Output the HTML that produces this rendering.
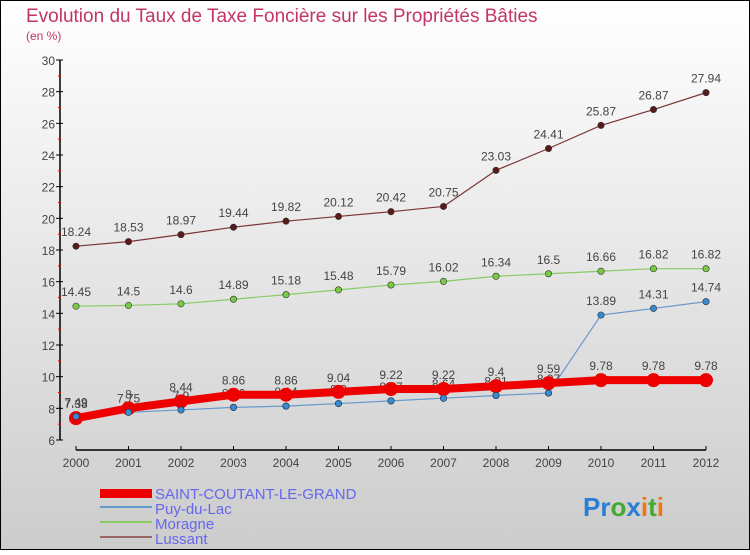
<!DOCTYPE html>
<html><head><meta charset="utf-8">
<style>
html,body{margin:0;padding:0;}
body{width:750px;height:550px;overflow:hidden;font-family:"Liberation Sans",sans-serif;}
svg text{font-family:"Liberation Sans",sans-serif;}
</style></head>
<body>
<svg id="chart" width="750" height="550" xmlns="http://www.w3.org/2000/svg">
<defs>
<linearGradient id="bg" x1="0" y1="0" x2="0" y2="1">
<stop offset="0" stop-color="#ffffff"/><stop offset="1" stop-color="#cccccc"/>
</linearGradient>
</defs>
<rect x="0.5" y="0.5" width="749" height="549" fill="url(#bg)" stroke="#000"/>
<text x="26" y="22" font-size="19" fill="#c3346a">Evolution du Taux de Taxe Foncière sur les Propriétés Bâties</text>
<text x="26" y="40" font-size="12" fill="#c3346a">(en %)</text>
<g id="axes"></g>
<g id="series"></g>
<g id="legend">
<rect x="100" y="489" width="52" height="9" fill="#ee0000"/>
<text x="155" y="499" font-size="15" fill="#6666ee">SAINT-COUTANT-LE-GRAND</text>
<rect x="100" y="506" width="52" height="2" fill="#6699cc"/>
<text x="155" y="514" font-size="15" fill="#6666ee">Puy-du-Lac</text>
<rect x="100" y="521" width="52" height="2" fill="#88cc66"/>
<text x="155" y="529" font-size="15" fill="#6666ee">Moragne</text>
<rect x="100" y="536" width="52" height="2" fill="#996666"/>
<text x="155" y="544" font-size="15" fill="#6666ee">Lussant</text>
</g>
<g font-size="26" font-weight="bold">
<text x="583" y="516"><tspan fill="#2a7fd4">Pr</tspan><tspan fill="#44aa33">o</tspan><tspan fill="#2a7fd4">x</tspan><tspan fill="#ee7711">i</tspan><tspan fill="#44aa33">t</tspan><tspan fill="#ee7711">i</tspan></text>
</g>
</svg>
<script>
const years = [2000,2001,2002,2003,2004,2005,2006,2007,2008,2009,2010,2011,2012];
const saintCoutant = [7.38,8,8.44,8.86,8.86,9.04,9.22,9.22,9.4,9.59,9.78,9.78,9.78];
const puyDuLac = [7.49,7.75,7.9,8.06,8.14,8.3,8.47,8.64,8.81,8.97,13.89,14.31,14.74];
const moragne = [14.45,14.5,14.6,14.89,15.18,15.48,15.79,16.02,16.34,16.5,16.66,16.82,16.82];
const lussant = [18.24,18.53,18.97,19.44,19.82,20.12,20.42,20.75,23.03,24.41,25.87,26.87,27.94];
const yTicks = [6,8,10,12,14,16,18,20,22,24,26,28,30];

const NS = "http://www.w3.org/2000/svg";
function xs(i){ return 76 + (706-76)*(i/(years.length-1)); }
function ys(v){ return 440 - (v-6)*(380/24); }
function mk(tag, attrs, parent){ const e=document.createElementNS(NS,tag); for(const k in attrs) e.setAttribute(k,attrs[k]); parent.appendChild(e); return e; }

const axes = document.getElementById('axes');
const yAxis = mk('line',{x1:60,y1:ys(30),x2:60,y2:ys(6),stroke:'#000','stroke-width':1.5},axes);


yTicks.forEach(t=>{
  const y=ys(t);
  const tk = mk('line',{x1:56,y1:y,x2:63,y2:y,stroke:'#000'},axes);
  
  
  const lb = mk('text',{x:55,y:y+5,'font-size':12,fill:'#444','text-anchor':'end'},axes);
  lb.textContent=t;
  
  
  if(t<30){
    const m = mk('line',{x1:58,y1:ys(t+1),x2:61,y2:ys(t+1),stroke:'#ee0000'},axes);
    
    
  }
});
const xAxis = mk('line',{x1:76,y1:450,x2:706,y2:450,stroke:'#000','stroke-width':1.5},axes);


years.forEach((yr,i)=>{
  const x=xs(i);
  const tk = mk('line',{x1:x,y1:446,x2:x,y2:450,stroke:'#000'},axes);
  
  
  const lb = mk('text',{x:x,y:467,'font-size':12,fill:'#444','text-anchor':'middle'},axes);
  lb.textContent=yr;
  
  
});

const sg = document.getElementById('series');
function drawSeries(vals,name,color,width,r,dot,showLabels){
  const g = mk('g',{},sg);
  
  
  const pl = mk('polyline',{points:vals.map((v,i)=>xs(i)+','+ys(v)).join(' '),fill:'none',stroke:color,'stroke-width':width,'stroke-linejoin':'round'},g);
  
  
  vals.forEach((v,i)=>{
    const c = mk('circle',{cx:xs(i),cy:ys(v),r:r,fill:dot,stroke:color==='#ee0000'?'#ee0000':'#333','stroke-width':color==='#ee0000'?0:0.6},g);
    
    
    if(showLabels){
      const t = mk('text',{x:xs(i),y:ys(v)-10,'font-size':12,fill:'#444','text-anchor':'middle'},g);
      t.textContent=v;
      
      
    }
  });
}
drawSeries(lussant,'lussant','#7a3535',1.2,3.2,'#5a1a1a',true);
drawSeries(moragne,'moragne','#88cc66',1.2,3.2,'#77cc44',true);
drawSeries(puyDuLac,'puy-du-lac','#6699cc',1.2,3.2,'#3a8ad0',true);
drawSeries(saintCoutant,'saint-coutant','#ee0000',8,7,'#ee0000',true);
// redraw Puy-du-Lac dots on top before 2010 as in reference
puyDuLac.forEach((v,i)=>{
  if(i<10){
    const c = mk('circle',{cx:xs(i),cy:ys(v),r:3.2,fill:'#3a8ad0',stroke:'#235','stroke-width':0.6},sg);
    
    
  }
});
</script>
</body></html>
